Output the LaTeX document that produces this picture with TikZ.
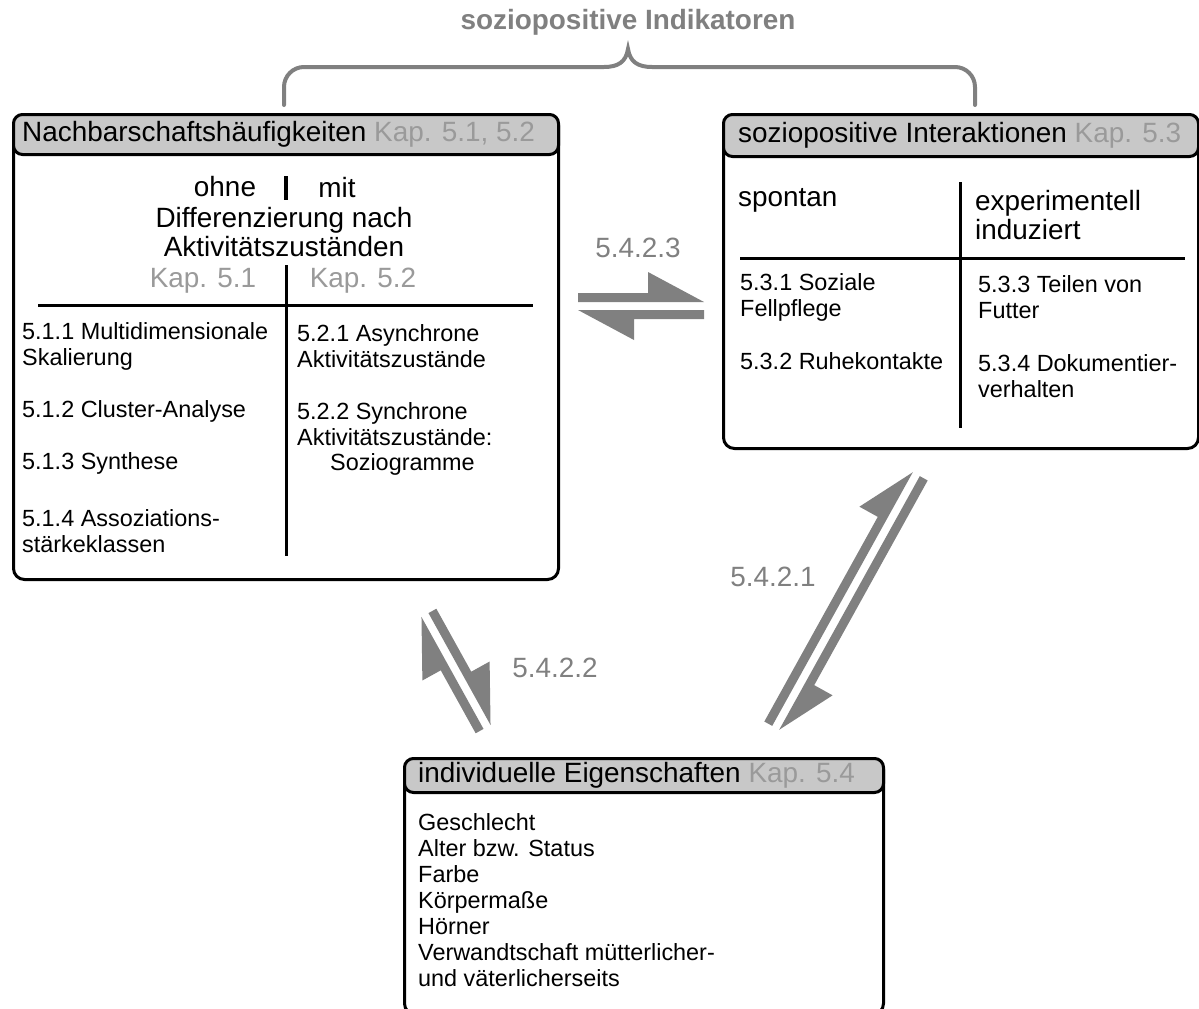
\documentclass[tikz,border=0pt]{standalone}
\usepackage{fontspec}
\setmainfont{Liberation Sans}
\definecolor{arrowgray}{HTML}{808080}
\definecolor{kapgray}{HTML}{9A9A9A}
\definecolor{headfill}{HTML}{C8C8C8}

\tikzset{
  frame/.style={draw=black, line width=3bp, rounded corners=11bp, inner sep=0pt, anchor=north west},
  headbar/.style={draw=black, line width=3bp, fill=headfill, rounded corners=9bp, inner sep=0pt, anchor=north west},
  divider/.style={line width=3bp},
  big/.style={font=\fontsize{28}{30}\selectfont, inner sep=0pt},
  small/.style={font=\fontsize{23.5}{26}\selectfont, inner sep=0pt, align=left, anchor=west},
  title/.style={font=\fontsize{28}{30}\selectfont\bfseries, text=arrowgray, inner sep=0pt},
  steplabel/.style={font=\fontsize{28}{30}\selectfont, text=arrowgray, inner sep=0pt},
  brace/.style={draw=arrowgray, line width=4bp, line cap=round}
}

% two opposed half arrows: centre x, centre y, angle, length
\newcommand\pairedarrows[4]{%
  \begin{scope}[shift={(#1,#2)}, rotate=#3]
    \pgfmathsetmacro\hl{#4/2}
    \fill[arrowgray] (-\hl,4) -- (\hl,4) -- (\hl-56,34) -- (\hl-56,13) -- (-\hl,13) -- cycle;
    \fill[arrowgray] (\hl,-4) -- (-\hl,-4) -- (-\hl+56,-34) -- (-\hl+56,-13) -- (\hl,-13) -- cycle;
  \end{scope}}

\newcommand\kap[1]{{\color{kapgray}#1}}

\begin{document}
\begin{tikzpicture}[x=1bp, y=1bp]
\useasboundingbox (0,0) rectangle (1199,-1009);
\fill[white] (0,0) rectangle (1199,-1009);

% title and brace
\node[title] (ind) at (628,-22) {soziopositive Indikatoren};
\coordinate (braceL) at (284,-105);
\coordinate (braceR) at (975,-105);
\draw[brace] (braceL) -- (284,-87) arc[start angle=180, end angle=90, radius=20]
  -- (604,-67) .. controls (618,-67) and (626,-62) .. (628,-49)
  .. controls (630,-62) and (638,-67) .. (652,-67)
  -- (955,-67) arc[start angle=90, end angle=0, radius=20] -- (braceR);

% ---------- Nachbarschaftshäufigkeiten ----------
\node[frame, minimum width=545bp, minimum height=465bp] (nb) at (12,-113) {};
\node[headbar, minimum width=545bp, minimum height=40bp] (nbhead) at (12,-113) {};
\node[big, anchor=west] (nbtitle) at (22,-134) {Nachbarschaftshäufigkeiten \kap{Kap. 5.1, 5.2}};
\node[big] (ohne) at (225,-187) {ohne};
\node[big] (mit) at (337,-187) {mit};
\draw[line width=4bp] (286,-176) -- (286,-200);
\node[big, align=center] (diff) at (284,-232) {Differenzierung nach\\[-1bp]Aktivitätszuständen};
\node[big, text=kapgray] (k51) at (203,-281) {Kap. 5.1};
\node[big, text=kapgray] (k52) at (363,-281) {Kap. 5.2};
\draw[divider] (286,-265) -- (286,-556);
\draw[divider] (38,-305) -- (533,-305);
\node[small] (s511) at (22,-346) {5.1.1 Multidimensionale\\Skalierung};
\node[small] (s512) at (22,-411) {5.1.2 Cluster-Analyse};
\node[small] (s513) at (22,-463) {5.1.3 Synthese};
\node[small] (s514) at (22,-531) {5.1.4 Assoziations-\\stärkeklassen};
\node[small] (s521) at (297,-346) {5.2.1 Asynchrone\\Aktivitätszustände};
\node[small] (s522) at (297,-439) {5.2.2 Synchrone\\Aktivitätszustände:\\\hspace*{33bp}Soziogramme};

% ---------- soziopositive Interaktionen ----------
\node[frame, minimum width=475bp, minimum height=334bp] (si) at (722,-113) {};
\node[headbar, minimum width=475bp, minimum height=42bp] (sihead) at (722,-113) {};
\node[big, anchor=west] (sititle) at (738,-135) {soziopositive Interaktionen \kap{Kap. 5.3}};
\node[big, anchor=west] (spont) at (738,-200) {spontan};
\node[big, anchor=west, align=left] (exp) at (975,-215) {experimentell\\induziert};
\draw[divider] (960,-182) -- (960,-428);
\draw[divider] (740,-258) -- (1185,-258);
\node[small] (s531) at (740,-297) {5.3.1 Soziale\\Fellpflege};
\node[small] (s532) at (740,-361) {5.3.2 Ruhekontakte};
\node[small] (s533) at (978,-297) {5.3.3 Teilen von\\Futter};
\node[small] (s534) at (978,-376) {5.3.4 Dokumentier-\\verhalten};

% ---------- individuelle Eigenschaften ----------
\node[frame, minimum width=479bp, minimum height=256bp] (ie) at (403,-757) {};
\node[headbar, minimum width=479bp, minimum height=34bp] (iehead) at (403,-757) {};
\node[big, anchor=west] (ietitle) at (418,-775) {individuelle Eigenschaften \kap{Kap. 5.4}};
\node[small] (ielist) at (418,-900) {Geschlecht\\Alter bzw. Status\\Farbe\\Körpermaße\\Hörner\\Verwandtschaft mütterlicher-\\und väterlicherseits};

% ---------- paired arrows ----------
\pairedarrows{641}{-306}{0}{126}
\pairedarrows{456}{-671}{-61}{128}
\pairedarrows{846}{-601}{61}{290}
\node[steplabel] (l3) at (638,-248) {5.4.2.3};
\node[steplabel] (l2) at (555,-668) {5.4.2.2};
\node[steplabel] (l1) at (773,-577) {5.4.2.1};
\end{tikzpicture}
\end{document}
